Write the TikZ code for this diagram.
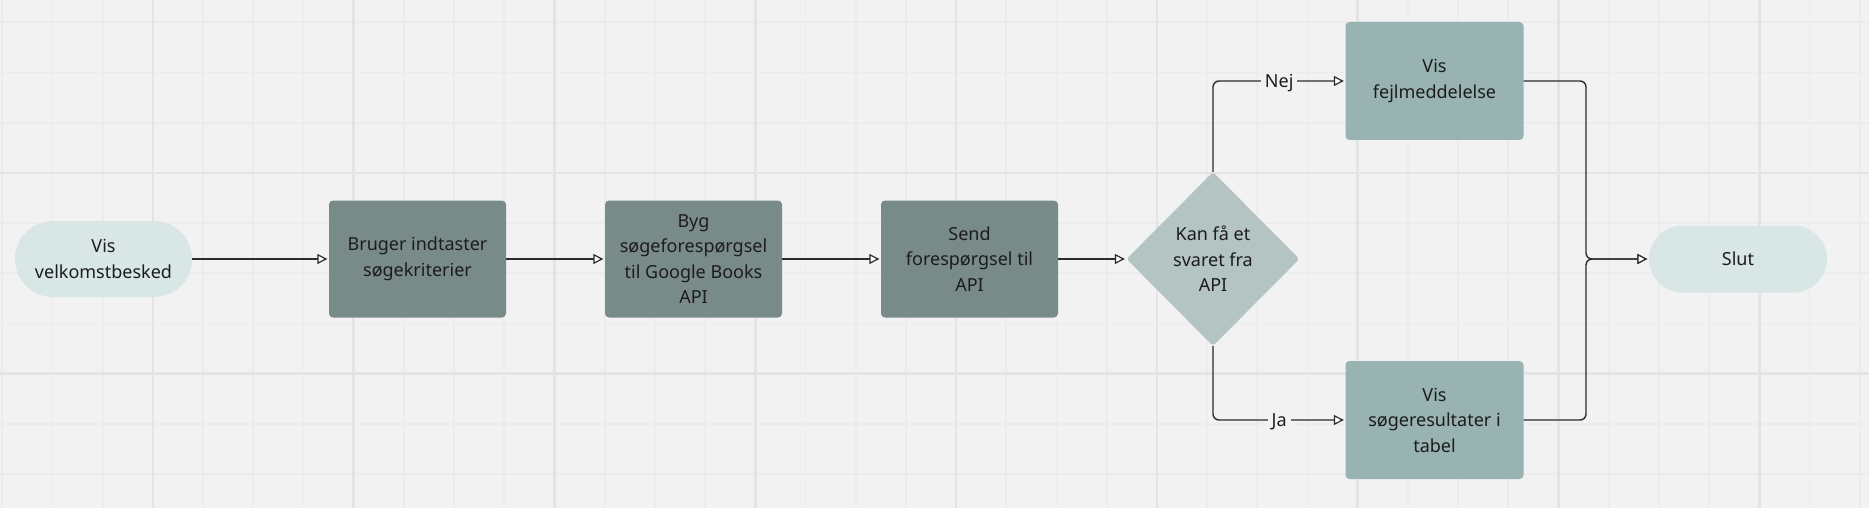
\documentclass[tikz,border=0pt]{standalone}
\usepackage{fontspec}
\setmainfont{Noto Sans}
\usetikzlibrary{arrows.meta,shapes.geometric,calc}
\definecolor{bg}{HTML}{F2F2F2}
\definecolor{gridminor}{HTML}{ECECEC}
\definecolor{gridmajor}{HTML}{E4E4E4}
\definecolor{pillfill}{HTML}{D8E6E6}
\definecolor{procfill}{HTML}{798B89}
\definecolor{decfill}{HTML}{B4C4C3}
\definecolor{resfill}{HTML}{99B3B3}
\definecolor{ink}{HTML}{1C1C1C}
\definecolor{wire}{HTML}{2B2B2B}
\begin{document}
\begin{tikzpicture}[x=1pt,y=-1pt,
  every node/.style={font=\fontsize{18}{25.5}\selectfont, text=ink, align=center, inner sep=0pt},
  pillA/.style={rectangle, fill=pillfill, minimum width=177pt, minimum height=76pt, rounded corners=37.9pt},
  pillB/.style={rectangle, fill=pillfill, minimum width=178pt, minimum height=67pt, rounded corners=33.4pt},
  proc/.style={rectangle, rounded corners=4pt, fill=procfill, minimum width=177pt, minimum height=117pt},
  res/.style={rectangle, rounded corners=4pt, fill=resfill, minimum width=178pt, minimum height=118pt},
  dec/.style={diamond, fill=decfill, rounded corners=3pt, minimum width=173pt, minimum height=174pt, aspect=1},
  conn/.style={draw=wire, line width=1.4pt, shorten >=1.5pt, -{Triangle[length=10pt,width=10pt,fill=white,line width=1.2pt]}},
  lbl/.style={fill=bg, inner xsep=4pt, inner ysep=2pt, text height=12.8pt, text depth=0pt}
]
\useasboundingbox (0,0) rectangle (1869,508);
\fill[bg] (0,0) rectangle (1869,508);
% grid
\foreach \k in {0,...,37}{
  \pgfmathsetmacro\xx{2.3+50.2*\k}
  \draw[gridminor, line width=1.8pt] (\xx,0) -- (\xx,508);
}
\foreach \k in {0,...,9}{
  \pgfmathsetmacro\yy{22.3+50.2*\k}
  \draw[gridminor, line width=1.8pt] (0,\yy) -- (1869,\yy);
}
\foreach \k in {3,7,...,35}{
  \pgfmathsetmacro\xx{2.3+50.2*\k}
  \draw[gridmajor, line width=2.6pt] (\xx,0) -- (\xx,508);
}
\foreach \k in {3,7}{
  \pgfmathsetmacro\yy{22.3+50.2*\k}
  \draw[gridmajor, line width=2.6pt] (0,\yy) -- (1869,\yy);
}
% nodes
\node[pillA] (start) at (103.5,259) {Vis\\velkomstbesked};
\node[proc] (b1) at (417.5,259) {Bruger indtaster\\søgekriterier};
\node[proc] (b2) at (693.5,259) {Byg\\søgeforespørgsel\\til Google Books\\API};
\node[proc] (b3) at (969.5,259) {Send\\forespørgsel til\\API};
\node[dec] (dec) at (1213,259) {Kan få et\\svaret fra\\API};
\node[res] (err) at (1434.5,81) {Vis\\fejlmeddelelse};
\node[res] (okres) at (1434.5,420) {Vis\\søgeresultater i\\tabel};
\node[pillB] (slut) at (1738,259) {Slut};
\coordinate (j) at (1586,259);
% connectors
\draw[conn] (start) -- (b1);
\draw[conn] (b1) -- (b2);
\draw[conn] (b2) -- (b3);
\draw[conn] (b3) -- (dec);
\draw[conn, rounded corners=6pt] (dec.north) |- (err.west);
\draw[conn, rounded corners=6pt] (dec.south) |- (okres.west);
\node[lbl] (nej) at ($(dec.north |- err.west)!0.5!(err.west)$) {Nej};
\node[lbl] (ja) at ($(dec.south |- okres.west)!0.5!(okres.west)$) {Ja};
\draw[conn, rounded corners=6pt] (err.east) -| (j) -- (slut.west);
\draw[conn, rounded corners=6pt] (okres.east) -| (j) -- (slut.west);
\end{tikzpicture}
\end{document}
